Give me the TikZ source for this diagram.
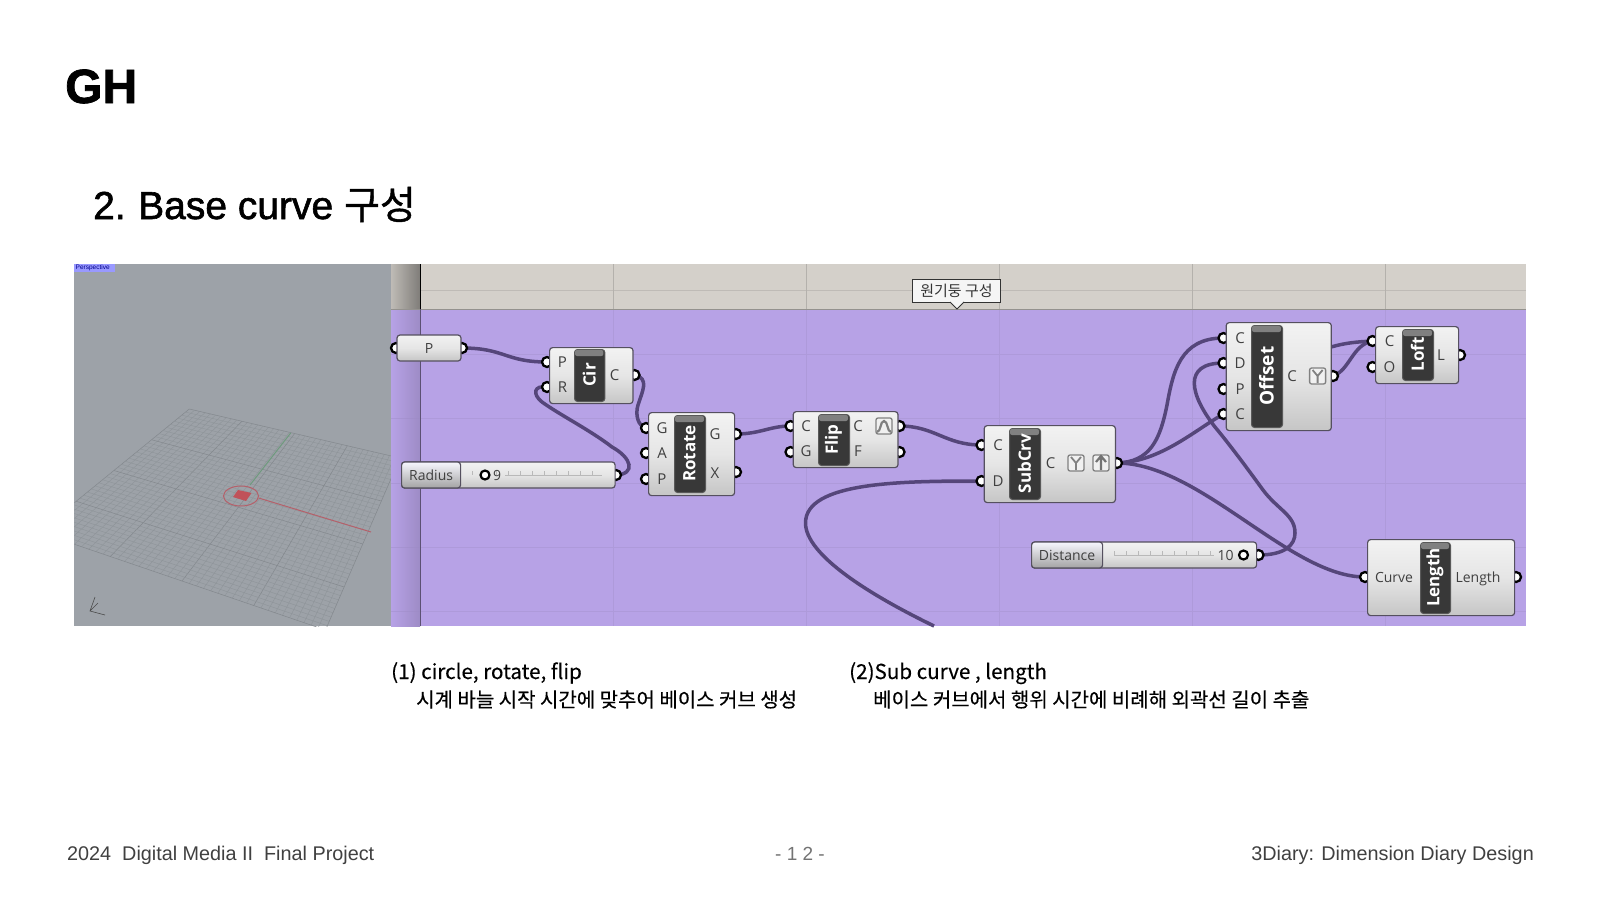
\documentclass[tikz,border=0pt]{standalone}
\usepackage{fontspec}
\setmainfont{Liberation Sans}
\newfontfamily\kr{Noto Sans CJK KR}
\newfontfamily\krcap[FakeBold=0.3]{Noto Sans CJK KR}
\newfontfamily\krmed[FakeBold=1.0]{Noto Sans CJK KR}
\newfontfamily\latmed[FakeBold=1.5]{Liberation Sans}
\newfontfamily\gh{Open Sans}
\usetikzlibrary{calc,shapes.geometric}
\pgfdeclarelayer{bg}\pgfdeclarelayer{wires}\pgfdeclarelayer{grips}
\pgfsetlayers{bg,wires,grips,main}
\definecolor{wirec}{HTML}{55467A}
\definecolor{canvasc}{HTML}{B7A2E6}
\definecolor{bandc}{HTML}{D4D0CA}
\definecolor{vpc}{HTML}{9DA2A8}
\definecolor{gridc}{HTML}{8E9499}
\definecolor{edgec}{HTML}{55505F}
\definecolor{glabel}{HTML}{404040}
\definecolor{redaxis}{HTML}{B5606A}
\definecolor{greenaxis}{HTML}{6F9A7E}
\tikzset{
  comp/.style={draw=edgec,line width=1.2pt,rounded corners=3pt,top color=gray!10,bottom color=gray!45,middle color=gray!20},
  barbox/.style={draw=black!65,line width=1pt,rounded corners=3pt,fill=black!78},
  bartext/.style={white,font=\gh\bfseries\fontsize{#1}{#1}\selectfont,rotate=90,inner sep=0},
  lab/.style={glabel,font=\gh\fontsize{15}{15}\selectfont,inner sep=0},
  grip/.style={circle,draw=black,fill=white,line width=2.3pt,minimum size=10pt,inner sep=0},
  wire/.style={draw=wirec,line width=3.5pt,line cap=round},
  iconbox/.style={draw=black!50,line width=1.3pt,rounded corners=2pt,fill=gray!12,minimum size=16pt,inner sep=0},
  slab/.style={draw=edgec,line width=1.2pt,rounded corners=3pt,top color=gray!30!blue!4!white,bottom color=gray!72},
  sltick/.style={draw=gray!55,line width=0.6pt},
  knob/.style={circle,draw=black,line width=2.2pt,fill=white,minimum size=9pt,inner sep=0},
  gridmin/.style={draw=gridc,line width=0.4pt},
  gridmaj/.style={draw=gridc!92!black,line width=0.5pt},
  hgrid/.style={draw=canvasc!95!black,line width=0.8pt},
  footertext/.style={black!75,font=\fontsize{19.8}{20}\selectfont,inner sep=0},
  captext/.style={black,font=\krcap\fontsize{20}{20}\selectfont,inner sep=0,anchor=base west},
  captextlat/.style={black,font=\krcap\fontsize{20.6}{20.6}\selectfont,inner sep=0,anchor=base west}
}
\begin{document}
\begin{tikzpicture}[x=1pt,y=-1pt]
\useasboundingbox (0,0) rectangle (1600,900);
%% slide text
\node[anchor=base west,inner sep=0,font=\latmed\bfseries\fontsize{48}{48}\selectfont] (title) at (65,103) {GH};
\node[anchor=base west,inner sep=0,font=\latmed\fontsize{39}{39}\selectfont] (sub) at (93,219) {2.\hspace{-2pt} Base curve {\krmed 구성}};
\node[captextlat] (c1a) at (391,679) {(1) circle, rotate, flip};
\node[captext] (c1b) at (416,707) {시계 바늘 시작 시간에 맞추어 베이스 커브 생성};
\node[captextlat] (c2a) at (849,679) {(2)Sub curve , length};
\node[captext] (c2b) at (873,707) {베이스 커브에서 행위 시간에 비례해 외곽선 길이 추출};
\node[footertext,anchor=base west] (f1) at (67,860) {2024\ \ Digital Media II\ \ Final Project};
\node[footertext,anchor=base,black!55,font=\fontsize{19}{20}\selectfont] (f2) at (800,860) {- 1 2 -};
\node[footertext,anchor=base east] (f3) at (1534,860) {3Diary: Dimension Diary Design};
%% panels
\begin{pgfonlayer}{bg}
\fill[white] (0,0) rectangle (1600,900);
\fill[vpc] (74.4,264) rectangle (391,626);
\begin{scope}
\clip (74.4,264) rectangle (391,626);
\coordinate (gA) at (189.3,409);
\coordinate (gB) at (400,458);
\coordinate (gC) at (325.5,630);
\coordinate (gD) at (38.5,532);
\foreach \i in {0,...,40}{
  \pgfmathsetmacro\tval{\i/40}
  \pgfmathtruncatemacro\mm{mod(\i,10)}
  \ifnum\mm=0\relax
    \draw[gridmaj] ($(gA)!\tval!(gB)$) -- ($(gD)!\tval!(gC)$);
    \draw[gridmaj] ($(gA)!\tval!(gD)$) -- ($(gB)!\tval!(gC)$);
  \else
    \draw[gridmin] ($(gA)!\tval!(gB)$) -- ($(gD)!\tval!(gC)$);
    \draw[gridmin] ($(gA)!\tval!(gD)$) -- ($(gB)!\tval!(gC)$);
  \fi
}
\draw[greenaxis,line width=1pt] (250,485) -- (290.7,433);
\draw[redaxis,line width=1pt] (258.6,498) -- (371,532);
\fill[redaxis!85!red] (233,497) -- (238,490) -- (251.5,493) -- (246,501) -- cycle;
\draw[redaxis,line width=1pt] (241,496) ellipse (17.5 and 10);
\draw[gray!60!black,line width=0.6pt] (95,597) -- (90,611) -- (105,615) (90,611) -- (98,603);
\end{scope}
\fill[blue!40!white] (74.4,264) rectangle (115,272);
\node[anchor=west,inner sep=0,text=blue!55!black,font=\fontsize{6.5}{6.5}\selectfont] (pers) at (75.5,268) {Perspective};
%% canvas
\fill[canvasc] (391,309) rectangle (1526,626);
\fill[bandc] (391,264) rectangle (1526,309);
\foreach \y in {354,418,483,547,611} \draw[hgrid] (421,\y) -- (1526,\y);
\shade[left color=bandc!90!black,right color=bandc!60!black] (391,264) rectangle (420,309);
\shade[left color=canvasc,right color=canvasc!86!black] (391,309) rectangle (420,626);
\foreach \y in {354,418,483,547,611} \draw[canvasc!85!black,line width=0.8pt,opacity=0.4] (391,\y) -- (420,\y);
\draw[bandc!90!black,line width=0.8pt] (421,290) -- (1526,290);
\foreach \x in {613.5,806.5,999,1192,1385}{
  \draw[bandc!85!black,line width=0.8pt] (\x,264) -- (\x,309);
  \draw[hgrid] (\x,309) -- (\x,626);
}
\draw[bandc!70!black,line width=1pt] (391,309) -- (1526,309);
\draw[black,line width=0.9pt] (420,264) -- (420,309);
\draw[canvasc!50!black,line width=0.9pt] (420,309) -- (420,626);
\end{pgfonlayer}
%% tooltip
\node[draw=black!80,line width=1pt,fill=white!92!gray,minimum width=88pt,minimum height=23pt,inner sep=0,font=\kr\fontsize{15}{15}\selectfont,text=black!80] (tip) at (956.5,290.5) {원기둥 구성};
\fill[white!92!gray,draw=black!80,line width=1pt] (950,302) -- (957,309) -- (964,302);
%% components
\newcommand{\comp}[5]{\node[comp,minimum width=#4-#2 pt,minimum height=#5-#3 pt,inner sep=0,anchor=north west] (#1) at (#2,#3) {};}
\newcommand{\gripat}[3]{\begin{pgfonlayer}{grips}\node[grip] (#1) at (#2,#3) {};\end{pgfonlayer}}
\newcommand{\barb}[7]{\node[barbox,minimum width=#4-#2 pt,minimum height=#5-#3 pt,inner sep=0,anchor=north west] (#1) at (#2,#3) {};
  \fill[black!50,rounded corners=2pt] (#2+1,#3+1) rectangle (#4-1,#3+7);
  \node[bartext=#6] (#1t) at ({(#2+#4)/2},{(#3+#5)/2}) {#7};}
%% P
\node[comp,minimum width=64pt,minimum height=26pt,inner sep=0,font=\gh\fontsize{14}{14}\selectfont,text=glabel] (nP) at (429,348) {P};
\gripat{pIn}{396}{348}\gripat{pOut}{462}{348}
%% Radius slider
\node[comp,minimum width=213.5pt,minimum height=26pt,inner sep=0,anchor=west] (nRad) at (401,475) {};
\node[slab,minimum width=59pt,minimum height=26pt,inner sep=0,anchor=west,font=\gh\fontsize{14}{14}\selectfont,text=glabel] (nRadL) at (401,475) {Radius};
\draw[sltick] (505,475) -- (602,475);
\foreach \x in {472,484,...,602} \draw[sltick] (\x,471) -- (\x,475);
\node[knob] (radK) at (485,475) {};
\node[lab,font=\gh\fontsize{14}{14}\selectfont,anchor=west] (radV) at (493,475) {9};
\gripat{radOut}{616}{475}
%% Cir
\comp{nCir}{549}{347}{632.4}{403}
\barb{bCir}{574}{349}{604.4}{401}{17}{Cir}
\node[lab] (cP) at (562.5,362) {P}; \node[lab] (cR) at (562.5,387) {R}; \node[lab] (cC) at (614.5,375) {C};
\gripat{cirP}{547}{362}\gripat{cirR}{547}{387}\gripat{cirC}{634.5}{375}
%% Rotate
\comp{nRot}{648}{412}{734}{495}
\barb{bRot}{674}{415}{705}{492}{17}{Rotate}
\node[lab] (rG) at (662,428) {G}; \node[lab] (rA) at (662,453) {A}; \node[lab] (rP) at (662,479) {P};
\node[lab] (rGo) at (715,434) {G}; \node[lab] (rX) at (715,473) {X};
\gripat{rotG}{646}{428}\gripat{rotA}{646}{453}\gripat{rotP}{646}{479}\gripat{rotGo}{736}{434}\gripat{rotX}{736}{472}
%% Flip
\comp{nFlip}{792.6}{411}{897.4}{467}
\barb{bFlip}{818}{414}{849}{465}{17}{Flip}
\node[lab] (fC) at (806,426) {C}; \node[lab] (fG) at (806,451) {G}; \node[lab] (fCo) at (858,426) {C}; \node[lab] (fF) at (858,451) {F};
\node[iconbox] (fIcon) at (884,426) {};
\draw[black!50,line width=2.2pt] (877,432) .. controls (881,432) and (880,421) .. (884,421) .. controls (888,421) and (887,432) .. (891,432);
\gripat{flipC}{790.5}{426}\gripat{flipG}{790.5}{452}\gripat{flipCo}{899.5}{426}\gripat{flipF}{899.5}{452}
%% SubCrv
\comp{nSub}{983.6}{425}{1114.8}{502}
\barb{bSub}{1009}{428}{1040}{499}{17}{SubCrv}
\node[lab] (sC) at (998,445) {C}; \node[lab] (sD) at (998,481) {D}; \node[lab] (sCo) at (1050.5,463) {C};
\node[iconbox] (sIa) at (1076,463) {};
\draw[black!50,line width=1.8pt] (1071,457) -- (1076,463) -- (1081,457) (1076,463) -- (1076,470);
\node[iconbox] (sIb) at (1101,463) {};
\draw[black!55,line width=2.2pt] (1101,470) -- (1101,457) (1096,462) -- (1101,456) -- (1106,462);
\gripat{subC}{981.5}{445}\gripat{subD}{981.5}{481}\gripat{subO}{1117}{463}
%% Distance
\node[comp,minimum width=225pt,minimum height=26pt,inner sep=0,anchor=west] (nDist) at (1031,555) {};
\node[slab,minimum width=71pt,minimum height=26pt,inner sep=0,anchor=west,font=\gh\fontsize{14}{14}\selectfont,text=glabel] (nDistL) at (1031,555) {Distance};
\draw[sltick] (1114,555) -- (1214,555);
\foreach \x in {1114,1126,...,1214} \draw[sltick] (\x,551) -- (\x,555);
\node[lab,font=\gh\fontsize{14}{14}\selectfont] (dV) at (1225.6,555) {10};
\node[knob] (dK) at (1243.5,555) {};
\gripat{dOut}{1258.5}{555}
%% Offset
\comp{nOff}{1225.6}{322}{1330.7}{430}
\barb{bOff}{1251}{325}{1282}{427}{19}{Offset}
\node[lab] (oC) at (1240,338) {C}; \node[lab] (oD) at (1240,363) {D}; \node[lab] (oP) at (1240,389) {P}; \node[lab] (oC2) at (1240,414) {C}; \node[lab] (oCo) at (1292,376) {C};
\node[iconbox] (oI) at (1317.6,376) {};
\draw[black!50,line width=1.8pt] (1312.6,370) -- (1317.6,376) -- (1322.6,370) (1317.6,376) -- (1317.6,383);
\gripat{offC}{1223.5}{338}\gripat{offD}{1223.5}{363}\gripat{offP}{1223.5}{389}\gripat{offC2}{1223.5}{414}\gripat{offO}{1333}{376}
\coordinate (offHid) at (1331,347);
%% Loft
\comp{nLoft}{1375}{326}{1458}{383}
\barb{bLoft}{1402}{329}{1433}{380}{17}{Loft}
\node[lab] (lC) at (1389.5,341) {C}; \node[lab] (lO) at (1389.5,367) {O}; \node[lab] (lL) at (1441,355) {L};
\gripat{loftC}{1372.5}{341}\gripat{loftO}{1372.5}{367}\gripat{loftL}{1460}{355}
%% Length
\comp{nLen}{1367}{539}{1514}{615}
\barb{bLen}{1420}{542}{1450}{613}{17}{Length}
\node[lab,font=\gh\fontsize{14}{14}\selectfont,anchor=base] (lenC) at (1394,582) {Curve}; \node[lab,font=\gh\fontsize{14}{14}\selectfont,anchor=base] (lenL) at (1478,582) {Length};
\gripat{lenIn}{1365}{577}\gripat{lenOut}{1516}{577}
%% wires
\coordinate (wireEnd) at (934,626);
\begin{pgfonlayer}{wires}
\draw[wire] (pOut.center) .. controls (505,348) and (505,362) .. (cirP.center);
\draw[wire] (radOut.center) .. controls (636,474) and (632,458) .. (612,447) .. controls (590,430) and (560,415) .. (542,402) .. controls (532,394) and (534,385) .. (cirR.center);
\draw[wire] (cirC.center) .. controls (650,378) and (642,392) .. (638,405) .. controls (635,415) and (638,426) .. (rotG.center);
\draw[wire] (rotGo.center) .. controls (760,434) and (770,426) .. (flipC.center);
\draw[wire] (flipCo.center) .. controls (935,426) and (945,445) .. (subC.center);
\draw[wire,line cap=butt] (subD.center) .. controls (900,481) and (805.5,482) .. (805.5,523) .. controls (805.5,555) and (870,595) .. (wireEnd);
\draw[wire] (subO.center) .. controls (1150,462) and (1160,440) .. (1167,405) .. controls (1173,372) and (1180,338) .. (offC.center);
\draw[wire] (subO.center) .. controls (1160,462) and (1195,430) .. (offC2.center);
\draw[wire] (subO.center) .. controls (1200,463) and (1290,577) .. (lenIn.center);
\draw[wire] (dOut.center) .. controls (1285,555) and (1295,545) .. (1295,533) .. controls (1295,515) and (1278,510) .. (1263,490) .. controls (1247,468) and (1230,445) .. (1215,427) .. controls (1190,395) and (1182,363) .. (offD.center);
\draw[wire] (offHid) .. controls (1345,343) and (1355,342) .. (loftC.center);
\draw[wire] (offO.center) .. controls (1350,370) and (1352,345) .. (loftC.center);
\end{pgfonlayer}
\end{tikzpicture}
\end{document}
